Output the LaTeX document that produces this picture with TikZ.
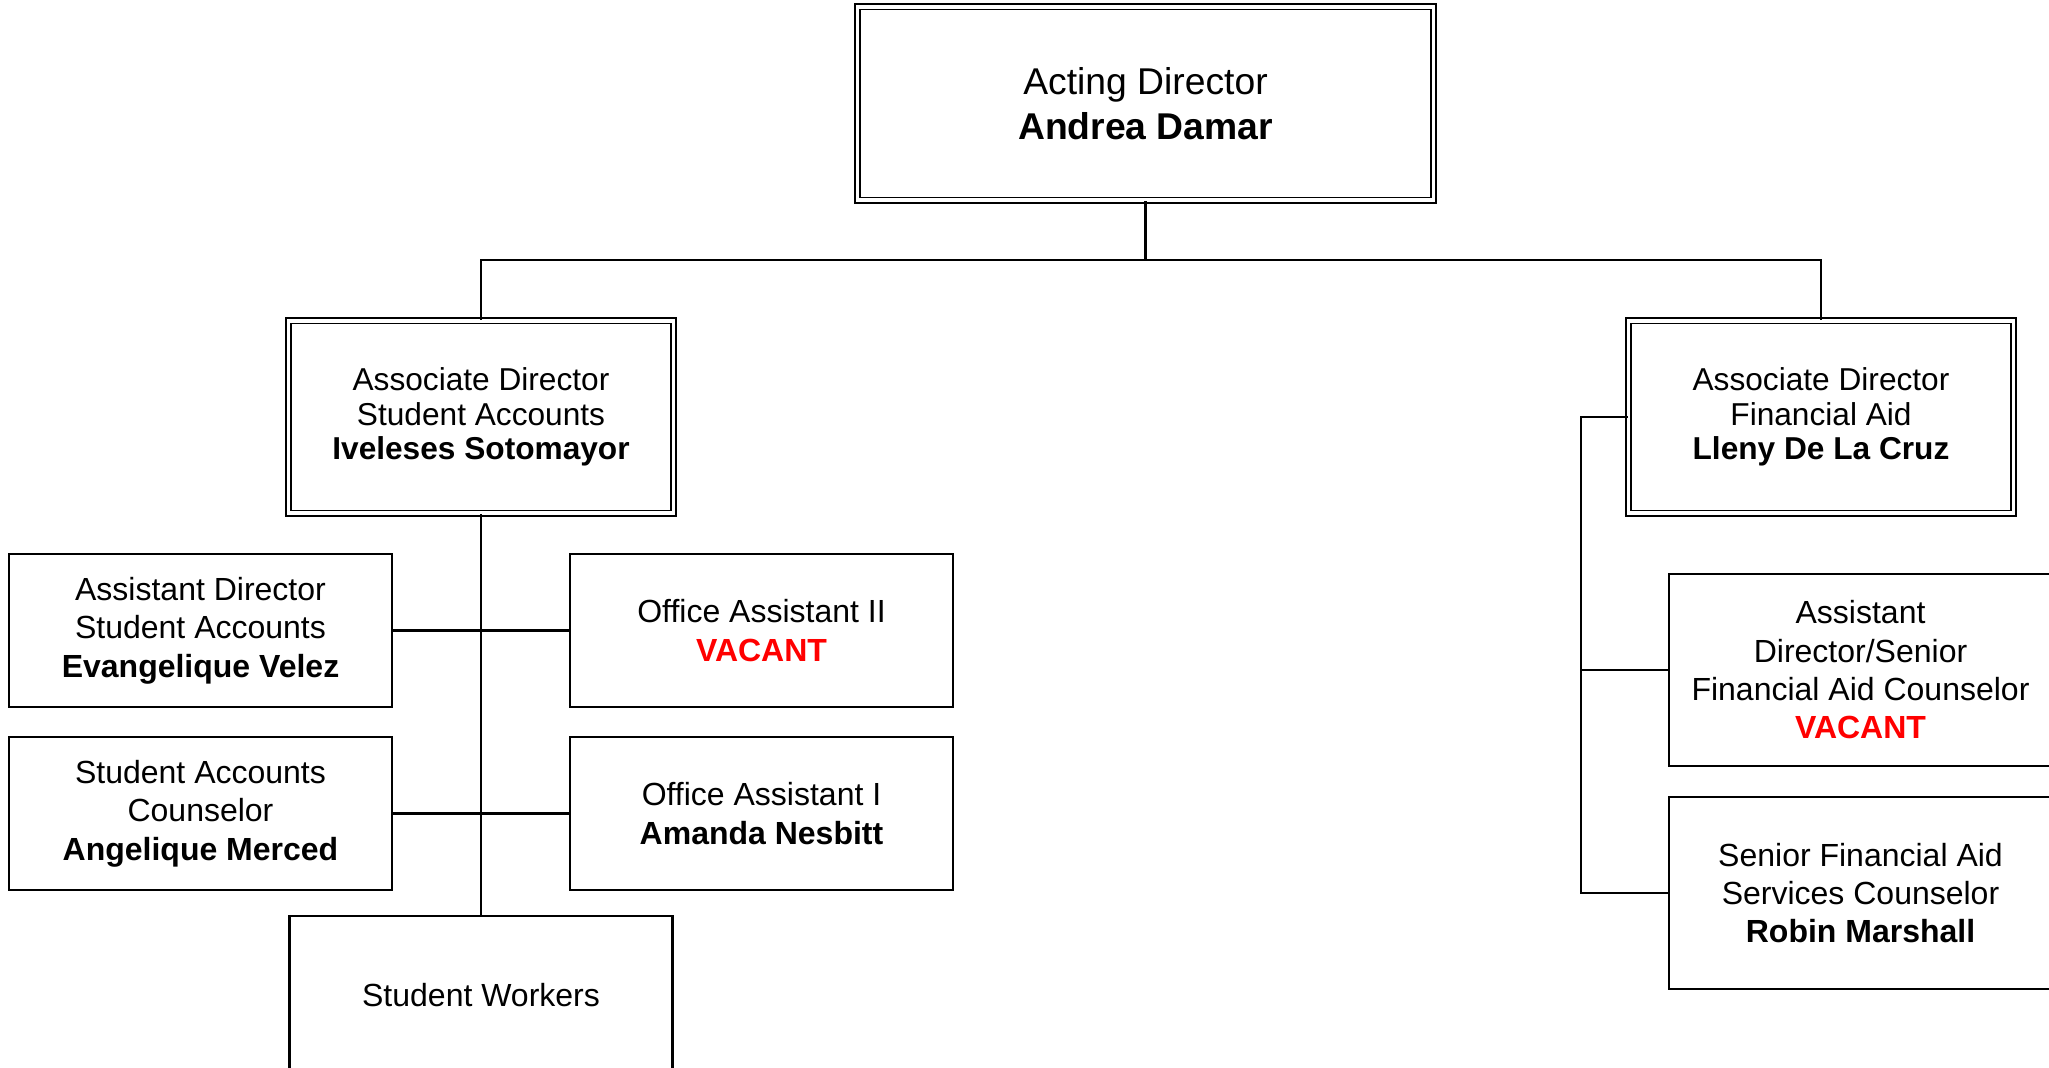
\documentclass[tikz,border=0pt]{standalone}
\usepackage{fontspec}
\setmainfont{Liberation Sans}
\definecolor{vacantred}{RGB}{255,0,0}
\newcommand{\vacant}{\textcolor{vacantred}{\textbf{VACANT}}}
\begin{document}
\begin{tikzpicture}[x=0.01cm,y=-0.01cm,line width=0.75pt,
  topbox/.style={draw=black,double,line width=0.55pt,double distance=0.9pt,align=center,inner sep=0pt,minimum width=5.75cm,minimum height=1.93cm,font=\fontsize{10.6}{12.8}\selectfont},
  assocbox/.style={draw=black,double,line width=0.55pt,double distance=0.9pt,align=center,inner sep=0pt,minimum width=3.84cm,minimum height=1.92cm,font=\fontsize{9.0}{9.9}\selectfont},
  staffbox/.style={draw=black,line width=0.75pt,align=center,inner sep=0pt,minimum width=3.83cm,minimum height=1.53cm,font=\fontsize{9.1}{10.9}\selectfont},
  tallbox/.style={staffbox,minimum height=1.92cm},
  link/.style={draw=black,line width=0.75pt}]
\useasboundingbox (0,0) rectangle (2049,1068);
% director and associate directors
\node[topbox] (acting) at (1145.5,103.5) {Acting Director\\\textbf{Andrea Damar}};
\node[assocbox] (assocsa) at (481,417) {Associate Director\\Student Accounts\\\textbf{Iveleses Sotomayor}};
\node[assocbox] (assocfa) at (1821,417) {Associate Director\\Financial Aid\\\textbf{Lleny De La Cruz}};
% student accounts staff
\node[staffbox] (asstsa) at (200.5,630.5) {Assistant Director\\Student Accounts\\\textbf{Evangelique Velez}};
\node[staffbox] (oatwo) at (761.5,630.5) {Office Assistant II\\\vacant};
\node[staffbox] (sacoun) at (200.5,813.5) {Student Accounts\\Counselor\\\textbf{Angelique Merced}};
\node[staffbox] (oaone) at (761.5,813.5) {Office Assistant I\\\textbf{Amanda Nesbitt}};
\node[staffbox,minimum height=1.58cm] (workers) at (481,995) {Student Workers};
% financial aid staff
\node[tallbox] (asstfa) at (1860.5,670) {Assistant\\Director/Senior\\Financial Aid Counselor\\\vacant};
\node[tallbox] (seniorfa) at (1860.5,893) {Senior Financial Aid\\Services Counselor\\\textbf{Robin Marshall}};
% connectors
\coordinate (topbar) at (1145.5,260); \coordinate (fabus) at (1581,893);
\draw[link] (acting.south) -- (topbar); \draw[link] (assocsa.north) |- (topbar) -| (assocfa.north);
\draw[link] (assocsa.south) -- (workers.north); \draw[link] (asstsa.east) -- (oatwo.west); \draw[link] (sacoun.east) -- (oaone.west);
\draw[link] (assocfa.west) -| (fabus) -- (seniorfa.west); \draw[link] (asstfa.west) -- (asstfa.west -| fabus);
\end{tikzpicture}
\end{document}
